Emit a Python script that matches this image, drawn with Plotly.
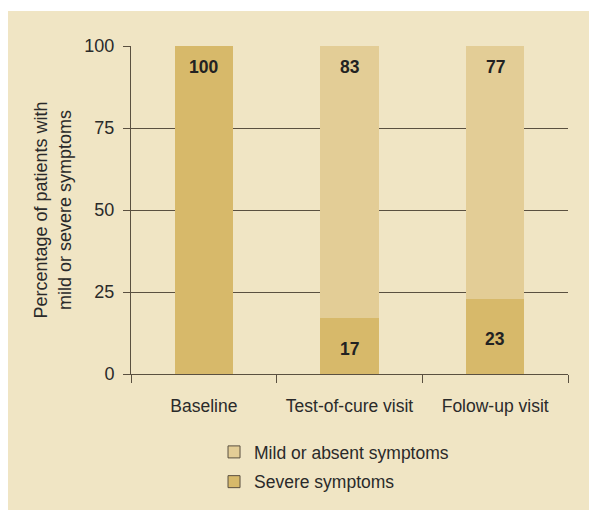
import plotly.graph_objects as go

categories = ["Baseline", "Test-of-cure visit", "Folow-up visit"]
severe = [100, 17, 23]
mild = [0, 83, 77]
series_names = ["Mild or absent symptoms", "Severe symptoms"]
y_ticks = [0, 25, 50, 75, 100]

C_SEVERE = "#D7B96A"
C_MILD = "#E3CD96"
BG = "#F0E5C4"
LINE = "#5a5040"
FONT = "Liberation Sans"

fig = go.Figure()
fig.add_trace(go.Bar(x=categories, y=severe, marker=dict(color=C_SEVERE, line=dict(width=0)),
                     showlegend=False, width=0.4))
fig.add_trace(go.Bar(x=categories, y=mild, marker=dict(color=C_MILD, line=dict(width=0)),
                     showlegend=False, width=0.4))
# legend entries
fig.add_trace(go.Bar(x=[categories[0]], y=[None], name=series_names[0], legendgroup="a",
                     marker=dict(color=C_MILD, line=dict(color=LINE, width=1))))
fig.add_trace(go.Bar(x=[categories[0]], y=[None], name=series_names[1], legendgroup="b",
                     marker=dict(color=C_SEVERE, line=dict(color=LINE, width=1))))

annotations = []
for c, s, m in zip(categories, severe, mild):
    total = s + m
    if m > 0:
        annotations.append(dict(x=c, y=total, text=f"<b>{m}</b>", yanchor="top", yshift=-9,
                                showarrow=False, font=dict(size=17.5, color="#222")))
        annotations.append(dict(x=c, y=s / 2, text=f"<b>{s}</b>", yanchor="middle", yshift=-3,
                                showarrow=False, font=dict(size=17.5, color="#222")))
    else:
        annotations.append(dict(x=c, y=s, text=f"<b>{s}</b>", yanchor="top", yshift=-9,
                                showarrow=False, font=dict(size=17.5, color="#222")))

fig.update_layout(
    width=589, height=507,
    margin=dict(l=123, r=29, t=38, b=141),
    paper_bgcolor="white",
    plot_bgcolor="rgba(0,0,0,0)",
    barmode="stack",
    font=dict(family=FONT, size=17, color="#2a2a2a"),
    annotations=annotations,
    shapes=[dict(type="rect", xref="paper", yref="paper", x0=-0.30, x1=1.050, y0=-0.415, y1=1.107,
                 fillcolor=BG, line=dict(width=0), layer="below")],
    legend=dict(x=0.19, y=-0.183, xanchor="left", yanchor="top", bgcolor="rgba(0,0,0,0)",
                font=dict(size=17.5, color="#2a2a2a"), traceorder="grouped", tracegroupgap=4,
                itemwidth=30),
    xaxis=dict(type="category", tickson="boundaries", ticks="outside", ticklen=8,
               tickcolor=LINE, showline=True, linecolor=LINE, linewidth=1,
               showgrid=False, tickfont=dict(size=17.5), range=[-0.5, 2.5],
               ticklabelstandoff=16),
    yaxis=dict(range=[0, 100], tickvals=y_ticks, ticks="outside", ticklen=7,
               tickcolor=LINE, showline=True, linecolor=LINE, linewidth=1,
               showgrid=True, gridcolor=LINE, gridwidth=1, zeroline=False,
               tickfont=dict(size=18), ticklabelstandoff=5,
               title=dict(text="Percentage of patients with<br>mild or severe symptoms",
                          font=dict(size=18), standoff=8)),
)

fig.write_html("out.html")
